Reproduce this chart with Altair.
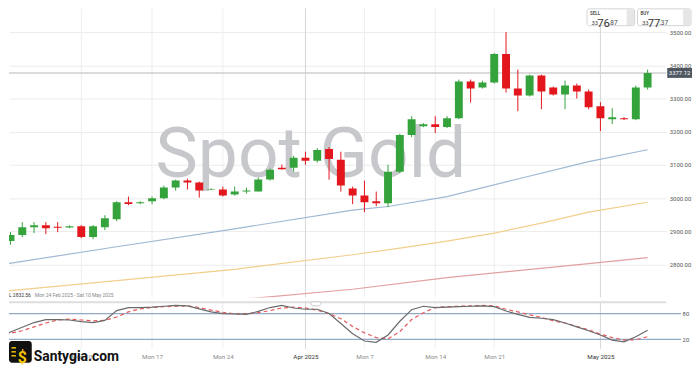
import altair as alt
import pandas as pd

# ---------------- data ----------------
idx = list(range(-1, 55))
opens = [2863, 2871, 2889, 2913, 2919, 2914, 2912, 2916, 2883, 2913, 2937, 2988, 2985, 2991, 3000, 3032,
         3053, 3047, 3026, 3026, 3011, 3020, 3020, 3056, 3092, 3092, 3122, 3113, 3148, 3116, 3029, 3008,
         2991, 2985, 3080, 3190, 3217, 3223, 3214, 3241, 3351, 3333, 3348, 3434, 3330, 3309, 3369, 3333,
         3312, 3339, 3321, 3277, 3238, 3241, 3238, 3333]
highs = [2880, 2898, 2928, 2928, 2928, 2928, 2918, 2919, 2919, 2949, 2991, 3005, 2991, 3005, 3038, 3056,
         3059, 3050, 3030, 3035, 3035, 3032, 3062, 3089, 3101, 3128, 3140, 3151, 3154, 3140, 3035, 3053,
         3020, 3101, 3194, 3247, 3226, 3247, 3247, 3357, 3357, 3354, 3437, 3500, 3387, 3372, 3372, 3336,
         3354, 3345, 3327, 3289, 3271, 3244, 3339, 3387]
lows = [2854, 2860, 2883, 2895, 2892, 2898, 2910, 2880, 2877, 2904, 2931, 2979, 2982, 2982, 2997, 3023,
        3026, 3002, 3024, 3005, 3008, 3014, 3020, 3053, 3086, 3080, 3101, 3107, 3056, 3020, 2982, 2958,
        2976, 2973, 3075, 3184, 3214, 3196, 3211, 3238, 3288, 3330, 3345, 3318, 3262, 3306, 3268, 3309,
        3268, 3300, 3268, 3202, 3223, 3235, 3235, 3327]
closes = [2871, 2889, 2913, 2919, 2910, 2911, 2916, 2883, 2916, 2940, 2988, 2983, 2988, 3000, 3032, 3053,
          3047, 3023, 3028, 3008, 3020, 3023, 3056, 3086, 3087, 3122, 3113, 3145, 3118, 3038, 3008, 2988,
          2985, 3080, 3190, 3238, 3223, 3214, 3241, 3351, 3330, 3348, 3434, 3330, 3309, 3369, 3321, 3312,
          3339, 3321, 3274, 3241, 3244, 3238, 3333, 3377.12]

ma_blue_idx = [-1, 9, 19, 29, 32, 37, 43, 49, 54]
ma_blue = [2799, 2854, 2908, 2964, 2975, 3005, 3058, 3110, 3146]
ma_yellow_idx = [-1, 0, 9, 19, 29, 33, 37, 41, 45, 49, 54]
ma_yellow = [2719, 2722, 2752, 2786, 2830, 2850, 2871, 2895, 2925, 2958, 2988]
ma_red_idx = [-1, 17, 21, 29, 37, 43, 49, 54]
ma_red = [2660, 2692, 2700, 2726, 2761, 2782, 2803, 2821]

stoch_k = [26, 37, 48, 59, 66, 66, 65, 61, 59, 64, 87, 94, 94, 95, 97, 99, 98, 91, 84, 80, 79, 78, 85, 94,
           99, 93, 90, 90, 80, 57, 33, 16, 13, 30, 62, 89, 97, 94, 95, 96, 97, 98, 96, 86, 78, 71, 69, 66,
           58, 49, 40, 30, 18, 14, 26, 41]
stoch_d = [27, 34, 40, 49, 58, 65, 67, 65, 63, 64, 72, 84, 91, 94, 96, 97, 98, 94, 88, 83, 79, 80, 82, 87,
           93, 95, 93, 88, 80, 68, 50, 35, 24, 21, 38, 66, 82, 94, 96, 97, 98, 99, 98, 90, 84, 77, 71, 63,
           58, 50, 42, 32, 24, 18, 19, 26]

tick_idx = [6, 12, 18, 25, 30, 36, 41, 50]
tick_labels = ["Mon 10", "Mon 17", "Mon 24", "Apr 2025", "Mon 7", "Mon 14", "Mon 21", "May 2025"]
month_idx = [25, 50]
price_ticks = [2800, 2900, 3000, 3100, 3200, 3300, 3400, 3500]
last_price = 3377.12

# ---------------- tables ----------------
candles = pd.DataFrame({"i": idx, "o": opens, "h": highs, "l": lows, "c": closes})
candles["dir"] = ["up" if c >= o else "down" for o, c in zip(opens, closes)]
blue_df = pd.DataFrame({"i": ma_blue_idx, "v": ma_blue})
yellow_df = pd.DataFrame({"i": ma_yellow_idx, "v": ma_yellow})
red_df = pd.DataFrame({"i": ma_red_idx, "v": ma_red})
stoch = pd.DataFrame({"i": idx, "k": stoch_k, "d": stoch_d})
week_grid = pd.DataFrame({"g": [t for t in tick_idx if t not in month_idx]})
month_grid = pd.DataFrame({"g": month_idx})
one = pd.DataFrame({"a": [0]})

W, H1, H2 = 664, 292, 48
FONT = "Roboto"
xs = alt.Scale(domain=[-0.126, 55.58], nice=False, zero=False, padding=0)
ys = alt.Scale(domain=[2701.6, 3571.5], nice=False, zero=False, padding=0)
ss = alt.Scale(domain=[-2.3, 108.5], nice=False, zero=False, padding=0)
GREEN, RED = "#35a33b", "#e2161c"
dir_color = alt.Color("dir:N", scale=alt.Scale(domain=["up", "down"], range=[GREEN, RED]), legend=None)

label_expr = "".join(f"datum.value == {v} ? '{t}' : " for v, t in zip(tick_idx, tick_labels)) + "''"
month_test = " || ".join(f"datum.value == {m}" for m in month_idx)

price_axis = alt.Axis(orient="right", values=price_ticks, format=".2f", ticks=False, domain=False,
                      grid=True, gridColor="#ececec", labelFontSize=6, labelColor="#555555",
                      labelFont=FONT, labelPadding=3, title=None)
time_axis = alt.Axis(values=tick_idx, labelExpr=label_expr, grid=False, ticks=False, domain=False,
                     labelFontSize=6.3, labelFont=FONT, labelPadding=4.5, labelOverlap=False,
                     labelBound=False, labelFlush=False, title=None,
                     labelColor={"condition": {"test": month_test, "value": "#333333"}, "value": "#8a8a8a"})
stoch_axis = alt.Axis(orient="right", values=[20, 80], ticks=False, domain=False, grid=False,
                      labelFontSize=6, labelFont=FONT, labelColor="#555555", labelPadding=16, title=None)

# ---------------- price panel ----------------
def px(field):
    return alt.X(field, scale=xs, axis=None, title=None)

def py(field):
    return alt.Y(field, scale=ys, axis=price_axis, title=None)

wg = alt.Chart(week_grid).mark_rule(color="#eeeeee", strokeWidth=1).encode(x=px("g:Q"))
mg = alt.Chart(month_grid).mark_rule(color="#d6d6d6", strokeWidth=1).encode(x=px("g:Q"))

watermark = alt.Chart(one).mark_text(font=FONT, fontSize=72, color="#c7c8cc", align="center",
                                     baseline="alphabetic").encode(
    x=alt.value(305), y=alt.value(170), text=alt.value("Spot Gold"))

def ma_line(df, color):
    return alt.Chart(df).mark_line(color=color, strokeWidth=1.2, clip=True).encode(
        x=px("i:Q"), y=py("v:Q"))

last_line = alt.Chart(one).mark_rule(color="#cfcfcf", strokeWidth=1.5).encode(
    y=alt.YDatum(last_price, scale=ys, axis=price_axis))

wicks = alt.Chart(candles).mark_rule(strokeWidth=1, clip=True).encode(
    x=px("i:Q"), y=py("l:Q"), y2="h:Q", color=dir_color)
bodies = alt.Chart(candles).mark_bar(size=8, clip=True).encode(
    x=px("i:Q"), y=py("o:Q"), y2="c:Q", color=dir_color)

price_box = alt.Chart(one).mark_rect(color="#4d5661", yOffset=-5, y2Offset=5).encode(
    x=alt.value(665), x2=alt.value(690),
    y=alt.YDatum(last_price, scale=ys, axis=price_axis), y2=alt.datum(last_price))
price_txt = alt.Chart(one).mark_text(color="white", fontSize=6, font=FONT, align="center").encode(
    x=alt.value(677.5), y=alt.YDatum(last_price, scale=ys, axis=price_axis), text=alt.value("3377.12"))

def quote_box(x0, x1, label, a, b, c):
    box = alt.Chart(one).mark_rect(fill="white", stroke="#d4d4d4", strokeWidth=1, cornerRadius=2).encode(
        x=alt.value(x0), x2=alt.value(x1), y=alt.value(0.5), y2=alt.value(17.5))
    strip = alt.Chart(one).mark_rect(fill="#e6e6e6").encode(
        x=alt.value(x1 - 8), x2=alt.value(x1 - 0.5), y=alt.value(1), y2=alt.value(17))
    lab = alt.Chart(one).mark_text(fontSize=4.5, font=FONT, color="#555555", align="left",
                                   baseline="top", fontWeight="bold").encode(
        x=alt.value(x0 + 3), y=alt.value(2.5), text=alt.value(label))
    t1 = alt.Chart(one).mark_text(fontSize=6, font=FONT, color="#444444", align="left").encode(
        x=alt.value(x0 + 4.5), y=alt.value(15), text=alt.value(a))
    t2 = alt.Chart(one).mark_text(fontSize=11.5, font=FONT, color="#333333", align="left").encode(
        x=alt.value(x0 + 10.2), y=alt.value(15.5), text=alt.value(b))
    t3 = alt.Chart(one).mark_text(fontSize=6.5, font=FONT, color="#444444", align="left").encode(
        x=alt.value(x0 + 21.8), y=alt.value(15), text=alt.value(c))
    return [box, strip, lab, t1, t2, t3]

hdr1 = alt.Chart(one).mark_text(fontSize=5, font=FONT, color="#333333", align="left").encode(
    x=alt.value(0), y=alt.value(290), text=alt.value("L 2832.56"))
hdr2 = alt.Chart(one).mark_text(fontSize=5, font=FONT, color="#888888", align="left").encode(
    x=alt.value(26), y=alt.value(290), text=alt.value("Mon 24 Feb 2025 - Sat 10 May 2025"))

price = alt.layer(
    wg, mg, watermark,
    ma_line(red_df, "#e3a0a0"), ma_line(yellow_df, "#f2cf8c"), ma_line(blue_df, "#9fb8d3"),
    last_line, wicks, bodies, price_box, price_txt,
    *quote_box(584, 632, "SELL", "33", "76", ".87"),
    *quote_box(635, 689, "BUY", "33", "77", ".37"),
    hdr1, hdr2,
).properties(width=W, height=H1)

# ---------------- stochastic panel ----------------
def sx(field):
    return alt.X(field, scale=xs, axis=time_axis, title=None)

def sy(field):
    return alt.Y(field, scale=ss, axis=stoch_axis, title=None)

s_wg = alt.Chart(week_grid).mark_rule(color="#eeeeee", strokeWidth=1).encode(x=sx("g:Q"))
s_mg = alt.Chart(month_grid).mark_rule(color="#d6d6d6", strokeWidth=1).encode(x=sx("g:Q"))
lvl80 = alt.Chart(one).mark_rule(color="#93a9c8", strokeWidth=1.2).encode(
    x=alt.value(0), x2=alt.value(679), y=alt.YDatum(80, scale=ss, axis=stoch_axis))
lvl20 = alt.Chart(one).mark_rule(color="#93a9c8", strokeWidth=1.2).encode(
    x=alt.value(0), x2=alt.value(679), y=alt.YDatum(20, scale=ss, axis=stoch_axis))
k_line = alt.Chart(stoch).mark_line(color="#6a6a6a", strokeWidth=1.2, clip=True).encode(
    x=sx("i:Q"), y=sy("k:Q"))
d_line = alt.Chart(stoch).mark_line(color="#e45a5c", strokeWidth=1.2, strokeDash=[4, 3], clip=True).encode(
    x=sx("i:Q"), y=sy("d:Q"))
top_border = alt.Chart(one).mark_rule(color="#dedede", strokeWidth=2).encode(
    x=alt.value(0), x2=alt.value(W), y=alt.value(1))
pill = alt.Chart(one).mark_rect(fill="white", stroke="#bdbdbd", strokeWidth=0.8, cornerRadius=2).encode(
    x=alt.value(305), x2=alt.value(315), y=alt.value(0.5), y2=alt.value(4.5))
logo_sq = alt.Chart(one).mark_rect(color="#111111", cornerRadius=3).encode(
    x=alt.value(0), x2=alt.value(23), y=alt.value(40), y2=alt.value(62))
logo_sign = alt.Chart(one).mark_text(color="#f6c400", fontSize=16, font=FONT, fontWeight="bold",
                                     align="center").encode(
    x=alt.value(13.5), y=alt.value(57), text=alt.value("$"))
logo_streaks = alt.Chart(pd.DataFrame({"yy": [47, 51, 55]})).mark_rule(color="#f6c400", strokeWidth=1.5).encode(
    x=alt.value(2.5), x2=alt.value(7), y=alt.Y("yy:Q", scale=None, axis=None))
logo_txt = alt.Chart(one).mark_text(color="#111111", fontSize=14, font=FONT, fontWeight="bold",
                                    align="left").encode(
    x=alt.value(25), y=alt.value(56.5), text=alt.value("Santygia.com"))

stoch_panel = alt.layer(
    s_wg, s_mg, lvl80, lvl20, d_line, k_line, top_border, pill,
    logo_sq, logo_streaks, logo_sign, logo_txt,
).properties(width=W, height=H2)

chart = alt.vconcat(price, stoch_panel, spacing=2).properties(
    padding={"left": 0, "top": -2.5, "right": 0, "bottom": 0}, background="white"
).configure_view(stroke=None)

chart.save("out.html", embed_options={"renderer": "svg", "actions": False})
